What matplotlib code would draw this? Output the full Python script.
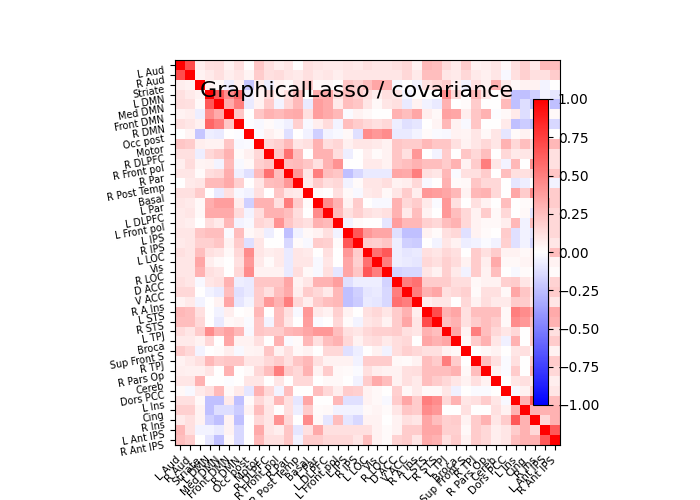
import numpy as np
import matplotlib
matplotlib.use('Agg')
import matplotlib.pyplot as plt
from matplotlib.transforms import ScaledTranslation

labels = ['L Aud', 'R Aud', 'Striate', 'L DMN', 'Med DMN', 'Front DMN', 'R DMN', 'Occ post', 'Motor',
          'R DLPFC', 'R Front pol', 'R Par', 'R Post Temp', 'Basal', 'L Par', 'L DLPFC', 'L Front pol',
          'L IPS', 'R IPS', 'L LOC', 'Vis', 'R LOC', 'D ACC', 'V ACC', 'R A Ins', 'L STS', 'R STS',
          'L TPJ', 'Broca', 'Sup Front S', 'R TPJ', 'R Pars Op', 'Cereb', 'Dors PCC', 'L Ins', 'Cing',
          'R Ins', 'L Ant IPS', 'R Ant IPS']
cbar_ticks = [-1, -0.75, -0.5, -0.25, 0, 0.25, 0.5, 0.75, 1]

# lower triangle (diagonal is 1)
r01 = [.7]
r02 = [.07, .05]
r03 = [.12, .08, .05]
r04 = [.13, .12, .03, .65]
r05 = [.05, .07, -.07, .45, .33]
r06 = [.12, .1, .06, .6, .5, .22]
r07 = [0, .04, -.22, -.07, -.08, 0, -.01]
r08 = [.22, .2, .07, .05, .05, .22, -.03, -.02]
r09 = [.12, .12, -.07, .15, .2, .3, .02, .06, .15]
r10 = [.07, .14, .04, .05, -.04, .27, -.03, .03, .18, .22]
r11 = [.1, .1, .02, .13, .15, .32, -.06, -.12, .27, .55, .25]
r12 = [0, .08, .1, .27, .27, .33, .18, 0, .1, .25, .27, .4]
r13 = [.12, .12, .2, 0, -.08, .12, -.03, -.05, .12, 0, .22, .1, .08]
r14 = [.1, .08, .03, .32, .38, .38, .07, -.18, .3, .3, .12, .5, .2, .02]
r15 = [.08, .1, .03, .33, .33, .33, .14, -.04, .13, .3, .3, .25, .13, 0, .45]
r16 = [.08, .07, 0, .13, .08, .28, -.04, -.03, .16, .13, .42, .22, .15, .12, .3, .27]
r17 = [.1, .1, .22, .25, .25, -.02, .25, .03, .06, -.07, 0, -.25, -.05, .03, .05, .12, -.05]
r18 = [.08, .1, .18, .18, .22, .05, .2, -.12, .1, 0, 0, -.15, .02, -.03, .2, .18, .02, .65]
r19 = [.12, .1, .25, .12, .1, .03, .15, .45, .1, .07, .08, -.08, .1, .08, 0, .12, 0, .4, .2]
r20 = [.1, .1, .35, .07, .03, 0, .12, .4, .08, .02, .08, -.08, .1, .1, -.03, .1, 0, .35, .18, .55]
r21 = [.1, .1, .3, .12, .1, 0, .15, .45, .05, .05, .05, -.08, .13, .03, -.03, .12, -.1, .35, .22, .65, .5]
r22 = [.12, .1, -.03, .1, .12, .3, -.07, -.08, .22, .22, .22, .35, .05, .1, .3, .3, .38, -.12, -.07, -.07,
       -.07, -.17]
r23 = [.15, .15, 0, -.05, -.08, .25, -.12, -.08, .2, .12, .25, .33, .07, .2, .15, .08, .28, -.25, -.18, -.1,
       -.08, -.15, .5]
r24 = [.05, .08, -.04, 0, .05, .35, -.1, -.04, .2, .4, .3, .5, .15, .07, .2, .25, .28, -.25, -.2, -.08, -.1,
       -.15, .55, .5]
r25 = [.28, .25, .12, 0, -.05, .07, 0, .02, .28, 0, .25, .12, -.03, .4, .08, .05, .18, .05, 0, .12, .15, .1,
       .2, .3, .07]
r26 = [.25, .25, .15, 0, -.08, .03, .04, -.02, .22, -.04, .25, .1, 0, .38, -.02, 0, .15, .02, -.04, .1, .12,
       .05, .2, .35, .1, .7]
r27 = [.14, .1, .2, .45, .3, .36, .28, -.03, .22, .2, .2, .28, .3, .35, .4, .4, .25, .12, .1, .15, .18, .18,
       .2, .12, .1, .3, .25]
r28 = [.08, .08, .05, .15, 0, .35, .05, .05, .12, 0, .3, -.02, .02, .28, .12, .25, .3, .15, .05, .12, .14,
       .08, .13, .15, 0, .35, .3, .35]
r29 = [.2, .15, -.04, 0, .02, .07, -.03, .04, .05, .22, .05, .12, .03, .05, 0, .15, .15, -.12, -.07, 0, .05,
       -.05, .13, .18, .15, .12, .12, .05, .03]
r30 = [.05, .08, .12, .28, .2, .22, .22, .1, .1, .15, .2, .12, .22, .28, .12, .05, .05, .05, -.05, .2, .2,
       .2, .03, .02, .05, .25, .2, .5, .2, 0]
r31 = [.07, .06, .06, .1, 0, .3, 0, .03, .15, .25, .5, .2, .15, .3, .05, .2, .03, .02, -.02, .12, .07, .05,
       .05, .12, .13, .25, .25, .25, .3, .03, .25]
r32 = [.1, .1, .3, 0, 0, -.01, 0, .1, .1, 0, .1, 0, .15, .15, 0, .03, .03, 0, -.05, .2, .33, .25, .05, .12,
       .08, .25, .2, .15, .1, .05, .12, .05]
r33 = [.03, -.03, .08, .12, .27, .03, .08, -.1, .3, .15, -.04, .25, 0, 0, .25, .15, .07, .2, .18, .05, .03,
       0, .18, .03, .08, .03, .03, .1, -.06, 0, -.02, -.02, 0]
r34 = [.12, .12, .03, -.25, -.25, .08, -.25, .02, .15, .08, .28, .12, -.1, .35, 0, 0, .28, -.12, -.12, .05,
       .03, -.03, .2, .35, .2, .5, .45, .15, .3, .1, .12, .2, .1, -.03]
r35 = [.18, .18, .05, -.25, -.13, -.13, -.2, .05, .25, .1, 0, .12, -.07, .2, .02, .03, -.05, -.05, -.05, .03,
       .04, .02, .1, .22, .2, .45, .4, 0, 0, .12, 0, 0, .12, .05, .3]
r36 = [.08, .12, .05, -.18, -.25, .05, -.25, 0, .15, .1, .42, .15, 0, .45, .03, -.1, .25, -.1, -.15, .05, .05,
       0, .05, .12, .1, .35, .25, .18, .2, .05, .2, .3, .1, .2, .65, .3]
r37 = [.28, .12, -.04, -.04, -.08, .05, -.15, 0, .33, .1, .07, .22, -.1, .12, .33, .12, .12, .12, .12, .12,
       .05, .02, .05, .2, .2, .35, .35, .18, .18, .03, .2, .15, .07, .1, .2, .3, .15]
r38 = [.25, .2, 0, -.1, -.25, .03, -.15, 0, .28, .12, .12, .22, -.05, .2, .2, .15, .15, .15, .1, .25, .05,
       .02, .17, .2, .1, .33, .3, .12, .2, .05, .2, .15, .07, .1, .25, .3, .3, .65]

rows = [r01, r02, r03, r04, r05, r06, r07, r08, r09, r10, r11, r12, r13, r14, r15, r16, r17, r18, r19, r20,
        r21, r22, r23, r24, r25, r26, r27, r28, r29, r30, r31, r32, r33, r34, r35, r36, r37, r38]

n = len(labels)
cov = np.eye(n)
for i, row in enumerate(rows):
    cov[i + 1, :i + 1] = row
    cov[:i + 1, i + 1] = row

fig = plt.figure(figsize=(7, 5), dpi=100)
ax = fig.add_axes([175 / 700, 55 / 500, 385 / 700, 385 / 500])
im = ax.imshow(cov, cmap='bwr', vmin=-1, vmax=1, interpolation='nearest')

ax.set_xticks(range(n))
ax.set_xticklabels(labels, size=7.6, rotation=45, ha='right')
ax.set_yticks(range(n))
ax.set_yticklabels(labels, size='x-small', rotation=10, va='top')

# nudge the x labels, they sit a few pixels further right in the target
shift = ScaledTranslation(3 / 100, 0, fig.dpi_scale_trans)
for lab in ax.get_xticklabels():
    lab.set_transform(lab.get_transform() + shift)

cax = fig.add_axes([533 / 700, 95 / 500, 15 / 700, 306 / 500])
cbar = fig.colorbar(im, cax=cax)
cbar.set_ticks(cbar_ticks)

fig.text(513 / 700, 403 / 500, 'GraphicalLasso / covariance', fontsize=16, ha='right', va='baseline')

plt.savefig('out.png')
